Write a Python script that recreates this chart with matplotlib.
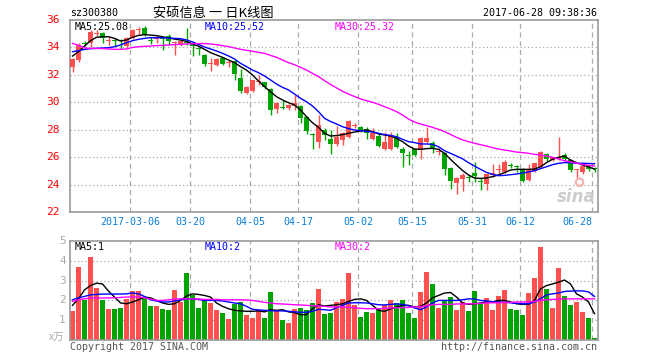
import matplotlib
matplotlib.use("Agg")
import matplotlib.pyplot as plt
import numpy as np

# --- data (88 trading days, 2017-02-20 .. 2017-06-28) ---
opens = [32.6, 33.1, 34.32, 34.35, 35.0, 35.03, 34.5, 34.5, 34.5, 34.1,
         34.66, 35.3, 35.45, 34.55, 34.6, 34.65, 34.85, 34.3, 34.2, 34.4,
         34.25, 33.9, 33.45, 32.8, 32.7, 33.2, 32.86, 33.0, 31.75, 30.7,
         30.85, 31.5, 31.45, 31.0, 29.5, 29.6, 29.6, 29.7, 29.73, 28.9,
         27.65, 27.13, 27.98, 27.32, 26.96, 27.25, 27.45, 28.25, 28.22, 28.03,
         27.3, 27.54, 26.57, 26.57, 27.5, 26.57, 26.12, 26.57, 26.52, 27.13,
         27.06, 26.35, 26.28, 25.2, 24.09, 24.4, 24.55, 24.87, 24.25, 24.02,
         24.7, 25.08, 24.94, 25.4, 25.35, 25.11, 24.33, 25.01, 25.26, 26.23,
         25.79, 25.84, 26.16, 25.79, 25.06, 24.94, 25.3, 25.13]
highs = [33.2, 34.3, 34.45, 35.3, 35.25, 35.1, 34.75, 34.7, 34.6, 34.75,
         35.35, 35.5, 35.55, 34.75, 34.85, 34.75, 34.95, 34.5, 34.55, 35.4,
         34.3, 34.05, 33.5, 33.2, 33.2, 33.3, 33.05, 33.05, 32.4, 31.2,
         31.65, 32.0, 31.5, 31.05, 30.05, 30.2, 29.9, 30.5, 29.8, 28.99,
         27.75, 29.07, 28.1, 27.98, 28.27, 27.86, 28.71, 28.5, 28.25, 28.17,
         28.1, 27.74, 27.86, 27.86, 27.74, 26.76, 26.47, 26.64, 27.44, 28.22,
         27.2, 26.64, 26.4, 25.3, 24.58, 24.85, 24.7, 25.67, 24.5, 24.82,
         25.5, 25.5, 25.79, 25.6, 25.43, 25.18, 25.5, 25.6, 26.47, 26.33,
         26.03, 27.44, 26.28, 25.84, 25.11, 25.43, 25.43, 25.3]
lows = [32.2, 32.95, 34.1, 34.05, 34.8, 34.35, 34.2, 34.1, 33.9, 33.95,
        34.6, 35.0, 34.8, 34.25, 34.35, 33.8, 34.2, 33.45, 34.1, 34.2,
        33.4, 33.45, 32.65, 32.3, 32.65, 32.72, 32.55, 31.6, 30.65, 30.6,
        30.78, 31.25, 31.0, 29.07, 29.25, 29.5, 29.45, 29.45, 28.47, 27.7,
        26.57, 26.64, 27.25, 26.23, 26.84, 26.89, 27.37, 28.1, 27.86, 27.3,
        27.25, 26.72, 26.52, 26.52, 26.64, 25.3, 25.43, 26.08, 25.84, 27.06,
        26.28, 26.16, 24.7, 23.65, 23.32, 23.55, 24.2, 24.2, 23.6, 23.6,
        24.58, 24.77, 24.87, 25.18, 24.94, 24.21, 24.28, 24.94, 25.18, 25.74,
        25.74, 25.79, 25.74, 24.94, 24.45, 24.77, 25.01, 24.94]
closes = [33.16, 34.2, 34.28, 35.15, 35.05, 34.66, 34.55, 34.45, 34.45, 34.66,
          35.25, 35.35, 34.9, 34.5, 34.72, 34.6, 34.5, 34.4, 34.5, 34.35,
          34.1, 33.85, 32.79, 32.85, 33.13, 32.8, 32.9, 32.06, 30.85, 31.14,
          31.6, 31.55, 31.14, 29.44, 29.92, 29.55, 29.8, 29.95, 28.83, 27.93,
          27.6, 28.34, 27.6, 26.96, 27.45, 27.74, 28.66, 28.27, 27.98, 27.74,
          27.78, 26.81, 27.13, 27.6, 26.77, 26.33, 26.08, 26.16, 27.37, 27.37,
          26.57, 26.4, 25.1, 24.28, 24.45, 24.7, 24.5, 24.62, 24.2, 24.77,
          24.87, 25.1, 25.67, 25.35, 25.3, 24.28, 25.06, 25.55, 26.4, 25.84,
          25.99, 26.03, 25.84, 25.06, 25.1, 25.35, 25.11, 25.1]

ma5 = [33.37, 33.69, 34.1, 34.49, 34.74, 34.78, 34.78, 34.66, 34.47, 34.54,
       34.74, 34.88, 34.93, 34.9, 34.86, 34.78, 34.69, 34.61, 34.54, 34.44,
       34.25, 34.1, 33.86, 33.62, 33.45, 33.28, 33.08, 32.89, 32.6, 32.35,
       31.99, 31.55, 31.14, 30.77, 30.41, 30.17, 29.97, 29.8, 29.44, 28.95,
       28.51, 28.17, 27.74, 27.54, 27.57, 27.64, 27.74, 27.83, 27.91, 27.98,
       27.86, 27.69, 27.62, 27.54, 27.37, 27.13, 26.81, 26.59, 26.57, 26.62,
       26.64, 26.57, 26.28, 25.84, 25.43, 25.03, 24.7, 24.48, 24.45, 24.48,
       24.58, 24.7, 24.87, 25.06, 25.11, 25.11, 25.11, 25.13, 25.3, 25.6,
       25.84, 25.99, 26.08, 25.79, 25.6, 25.43, 25.3, 25.12]
ma10 = [33.69, 33.76, 33.86, 33.91, 33.93, 33.96, 33.98, 34.05, 34.18, 34.35,
        34.49, 34.59, 34.66, 34.71, 34.71, 34.71, 34.69, 34.66, 34.64, 34.55,
        34.4, 34.22, 34.03, 33.89, 33.74, 33.57, 33.38, 33.16, 32.84, 32.6,
        32.35, 32.16, 31.92, 31.63, 31.33, 31.09, 30.9, 30.6, 30.29, 30.04,
        29.73, 29.32, 28.83, 28.6, 28.42, 28.22, 28.08, 27.98, 27.93, 27.88,
        27.83, 27.74, 27.64, 27.59, 27.49, 27.3, 27.13, 27.06, 26.96, 26.96,
        26.93, 26.76, 26.47, 26.28, 26.08, 25.88, 25.6, 25.35, 25.11, 24.89,
        24.75, 24.65, 24.67, 24.72, 24.77, 24.84, 24.92, 25.01, 25.16, 25.3,
        25.45, 25.55, 25.6, 25.6, 25.55, 25.55, 25.54, 25.52]
ma30 = [34.3, 34.15, 33.96, 33.93, 33.93, 33.91, 33.89, 33.86, 33.86, 33.89,
        34.0, 34.05, 34.08, 34.1, 34.13, 34.15, 34.18, 34.2, 34.23, 34.25,
        34.27, 34.28, 34.28, 34.25, 34.2, 34.13, 34.06, 33.96, 33.86, 33.79,
        33.72, 33.64, 33.57, 33.42, 33.28, 33.08, 32.89, 32.74, 32.55, 32.35,
        32.11, 31.87, 31.58, 31.3, 31.05, 30.8, 30.6, 30.42, 30.25, 30.12,
        30.0, 29.85, 29.68, 29.51, 29.32, 29.07, 28.78, 28.56, 28.42, 28.3,
        28.17, 28.03, 27.86, 27.66, 27.44, 27.26, 27.13, 27.01, 26.91, 26.81,
        26.69, 26.59, 26.52, 26.45, 26.37, 26.33, 26.28, 26.2, 26.16, 26.08,
        25.99, 25.86, 25.74, 25.65, 25.57, 25.47, 25.4, 25.35]

volume = [1.45, 3.67, 2.03, 4.2, 2.63, 2.0, 1.58, 1.55, 1.63, 2.05,
          2.45, 2.45, 2.17, 1.7, 1.7, 1.55, 1.5, 2.55, 1.92, 3.4,
          2.25, 1.62, 2.0, 1.87, 1.5, 1.37, 1.05, 1.83, 1.92, 1.25,
          1.1, 1.5, 1.1, 2.4, 1.5, 1.0, 0.87, 1.55, 1.6, 1.5,
          1.85, 2.6, 1.3, 1.37, 1.9, 2.05, 3.37, 1.75, 1.17, 1.42,
          1.35, 1.63, 1.75, 2.0, 1.88, 2.0, 1.37, 1.12, 2.42, 3.42,
          2.82, 1.62, 1.95, 2.15, 1.5, 1.92, 1.45, 2.47, 1.82, 2.1,
          1.5, 2.22, 2.55, 1.57, 1.5, 1.25, 2.37, 3.15, 4.71, 2.6,
          1.62, 3.62, 2.2, 1.77, 1.92, 1.42, 1.1, 0.12]
vma5 = [1.75, 2.08, 2.53, 2.75, 2.87, 2.83, 2.47, 2.17, 1.87, 1.83,
        1.92, 2.03, 2.17, 2.13, 2.0, 1.87, 1.8, 1.83, 2.0, 2.22,
        2.33, 2.3, 2.25, 2.17, 1.87, 1.7, 1.58, 1.5, 1.47, 1.45,
        1.45, 1.47, 1.42, 1.53, 1.5, 1.53, 1.42, 1.38, 1.28, 1.28,
        1.58, 1.78, 1.72, 1.75, 1.78, 1.83, 1.95, 2.05, 2.08, 2.0,
        1.75, 1.5, 1.45, 1.57, 1.67, 1.75, 1.75, 1.67, 1.7, 1.87,
        2.13, 2.25, 2.37, 2.4, 2.17, 1.87, 1.8, 1.83, 1.87, 1.92,
        1.92, 2.0, 2.0, 1.92, 1.83, 1.8, 1.8, 2.0, 2.58, 2.75,
        2.83, 2.92, 3.03, 2.83, 2.33, 2.17, 1.92, 1.33]
vma10 = [2.03, 2.13, 2.2, 2.28, 2.3, 2.32, 2.32, 2.32, 2.32, 2.33,
         2.38, 2.33, 2.2, 2.03, 1.97, 1.92, 1.92, 1.97, 2.03, 2.08,
         2.08, 2.05, 2.0, 2.0, 2.0, 1.97, 1.92, 1.87, 1.83, 1.7,
         1.55, 1.52, 1.5, 1.48, 1.47, 1.47, 1.45, 1.42, 1.4, 1.4,
         1.45, 1.55, 1.53, 1.5, 1.63, 1.75, 1.87, 1.88, 1.88, 1.87,
         1.83, 1.78, 1.77, 1.8, 1.82, 1.8, 1.73, 1.62, 1.53, 1.67,
         1.87, 2.0, 2.0, 2.0, 2.0, 2.03, 2.08, 2.07, 2.0, 1.97,
         1.93, 1.92, 1.9, 1.88, 1.85, 1.83, 1.83, 1.92, 2.08, 2.28,
         2.33, 2.37, 2.45, 2.47, 2.48, 2.48, 2.43, 2.2]
vma30 = [1.95, 2.03, 2.08, 2.12, 2.12, 2.12, 2.13, 2.13, 2.15, 2.17,
         2.17, 2.17, 2.13, 2.07, 2.0, 2.0, 2.03, 2.07, 2.08, 2.08,
         2.08, 2.07, 2.05, 2.05, 2.05, 2.03, 2.03, 2.03, 2.03, 2.02,
         2.0, 1.95, 1.9, 1.87, 1.83, 1.82, 1.8, 1.78, 1.77, 1.75,
         1.73, 1.72, 1.7, 1.67, 1.67, 1.67, 1.65, 1.63, 1.6, 1.58,
         1.58, 1.58, 1.6, 1.62, 1.63, 1.63, 1.65, 1.67, 1.68, 1.73,
         1.78, 1.8, 1.8, 1.8, 1.82, 1.82, 1.83, 1.83, 1.85, 1.87,
         1.88, 1.88, 1.9, 1.9, 1.92, 1.92, 1.92, 1.95, 2.0, 2.03,
         2.05, 2.07, 2.08, 2.08, 2.08, 2.08, 2.08, 2.08]

tick_idx = [10, 20, 30, 38, 48, 57, 67, 75, 87]
tick_labels = ["2017-03-06", "03-20", "04-05", "04-17", "05-02", "05-15",
               "05-31", "06-12", "06-28"]
price_ticks = [22, 24, 26, 28, 30, 32, 34, 36]
vol_ticks = [1, 2, 3, 4, 5]
price_legend = ["MA5:25.08", "MA10:25.52", "MA30:25.32"]
vol_legend = ["MA5:1", "MA10:2", "MA30:2"]

# --- style ---
C_UP = "#ff5050"
C_DN = "#00a400"
C_MA = ["black", "#0000ff", "#ff00ff"]
C_FRAME = "#999999"
C_GRID = "#aaaaaa"
MONO = "DejaVu Sans Mono"
CJK = ["Noto Sans CJK SC", "DejaVu Sans"]
W, H = 660, 360


def px(x, y):
    return x / W, 1 - y / H


def style_axes(ax, ymin, ymax, hticks):
    ax.set_xlim(-2.5 / 6, 88 - 2.5 / 6)
    ax.set_ylim(ymin, ymax)
    ax.set_xticks([])
    ax.set_yticks([])
    for s in ax.spines.values():
        s.set_color(C_FRAME)
        s.set_linewidth(1.2)
    for v in hticks:
        ax.axhline(v, color=C_GRID, lw=0.9, ls=(0, (1, 2)), zorder=0)
    for t in tick_idx:
        ax.axvline(t - 2.5 / 6, color=C_GRID, lw=0.9, ls=(0, (4, 3)), zorder=0)


fig = plt.figure(figsize=(6.6, 3.6), dpi=100)
fig.patch.set_facecolor("white")

l, b = px(70, 212)
ax = fig.add_axes([l, b, 528 / W, 192 / H])
l2, b2 = px(70, 340)
axv = fig.add_axes([l2, b2, 528 / W, 99 / H])

x = np.arange(len(closes))
o = np.array(opens)
c = np.array(closes)
colors = [C_UP if cc >= oo else C_DN for oo, cc in zip(o, c)]

# --- price pane ---
style_axes(ax, 22, 36, [24, 26, 28, 30, 32, 34])
ax.vlines(x, lows, highs, colors=colors, lw=1, zorder=2)
body_lo = np.minimum(o, c)
body_h = np.maximum(np.abs(c - o), 0.075)
ax.bar(x, body_h, bottom=body_lo, width=5 / 6, color=colors, lw=0, zorder=3)
for ser, col in zip([ma5, ma10, ma30], C_MA):
    ax.plot(x, ser, color=col, lw=1, zorder=4)

for v in price_ticks:
    ax.text(-0.02, v, str(v), transform=ax.get_yaxis_transform(), ha="right",
            va="center", color="#ff0000", fontsize=8, family=MONO)
for t, lab in zip(tick_idx, tick_labels):
    xx = t - 2.5 / 6
    ha = "right" if t == tick_idx[-1] else "center"
    ax.text(xx, -0.052, lab, transform=ax.get_xaxis_transform(), ha=ha,
            va="center", color="#0a7fd6", fontsize=7.2, family=MONO)

for xp, lab, col in zip([75, 205, 335], price_legend, C_MA):
    fig.text(*px(xp, 27), lab, va="center", fontsize=7.2, family=MONO, color=col)

# sina watermark
ax.text(0.995, 0.03, "sina", transform=ax.transAxes, ha="right", va="bottom",
        fontsize=12, fontweight="bold", style="italic", color="#cccccc",
        family="DejaVu Sans", zorder=5)
ax.scatter([0.965], [0.155], transform=ax.transAxes, s=28, facecolors="none",
           edgecolors="#f5b0b0", linewidths=1.6, zorder=5, clip_on=False)

# --- volume pane ---
style_axes(axv, 0, 5, [1, 2, 3, 4])
axv.bar(x, volume, width=5 / 6, color=colors, lw=0, zorder=2)
for ser, col in zip([vma5, vma10, vma30], C_MA):
    axv.plot(x, ser, color=col, lw=1, zorder=4)
for v in vol_ticks:
    axv.text(-0.008, v, str(v), transform=axv.get_yaxis_transform(), ha="right",
             va="center", color="#aaaaaa", fontsize=8, family=MONO)
fig.text(*px(64, 338), "x万", ha="right", va="center", fontsize=7.5,
         family=CJK, color="#aaaaaa")
for xp, lab, col in zip([75, 205, 335], vol_legend, C_MA):
    fig.text(*px(xp, 247), lab, va="center", fontsize=7.2, family=MONO, color=col)

# --- header / footer ---
fig.text(*px(70, 13), "sz300380", va="center", fontsize=7.2, family=MONO)
fig.text(*px(213, 13), "安硕信息 一 日K线图", ha="center", va="center",
         fontsize=9.5, family=CJK)
fig.text(*px(597, 13), "2017-06-28 09:38:36", ha="right", va="center",
         fontsize=7.2, family=MONO)
fig.text(*px(70, 347), "Copyright 2017 SINA.COM", va="center", fontsize=7.2,
         family=MONO, color="#555555")
fig.text(*px(597, 347), "http://finance.sina.com.cn", ha="right", va="center",
         fontsize=7.2, family=MONO, color="#555555")

fig.savefig("out.png", dpi=100)
